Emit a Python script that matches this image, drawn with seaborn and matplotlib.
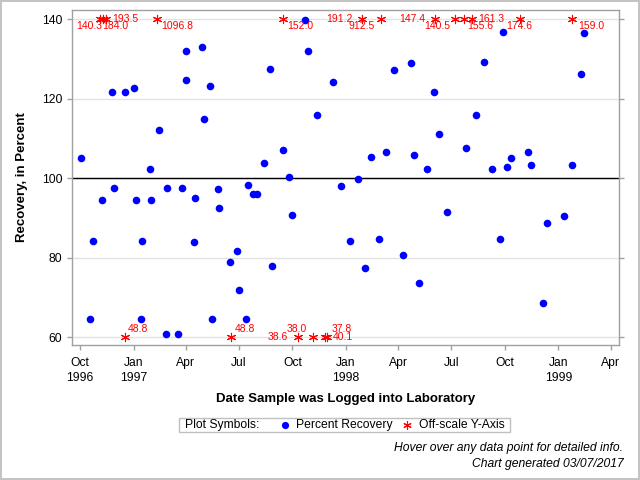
import numpy as np
import pandas as pd
import matplotlib
matplotlib.use("Agg")
import matplotlib.pyplot as plt
import matplotlib.dates as mdates
import matplotlib.ticker as mticker
from matplotlib.lines import Line2D
from matplotlib.offsetbox import AnchoredOffsetbox, HPacker, TextArea, DrawingArea
import seaborn as sns

# on-scale recoveries (percent) by log-in date
dates = ["1996-10-03", "1996-10-18", "1996-10-24", "1996-11-07", "1996-11-25",
         "1996-11-29", "1996-12-18", "1997-01-01", "1997-01-05", "1997-01-14",
         "1997-01-16", "1997-01-30", "1997-01-31", "1997-02-13", "1997-02-25",
         "1997-02-28", "1997-03-19", "1997-03-26", "1997-04-02", "1997-04-02",
         "1997-04-15", "1997-04-17", "1997-04-29", "1997-05-02", "1997-05-13",
         "1997-05-15", "1997-05-27", "1997-05-28", "1997-06-16", "1997-06-27",
         "1997-07-02", "1997-07-14", "1997-07-16", "1997-07-26", "1997-08-01",
         "1997-08-14", "1997-08-23", "1997-08-27", "1997-09-15", "1997-09-26",
         "1997-10-01", "1997-10-23", "1997-10-28", "1997-11-13", "1997-12-10",
         "1997-12-24", "1998-01-08", "1998-01-22", "1998-02-03", "1998-02-13",
         "1998-02-26", "1998-03-11", "1998-03-25", "1998-04-09", "1998-04-23",
         "1998-04-28", "1998-05-07", "1998-05-21", "1998-06-01", "1998-06-10",
         "1998-06-24", "1998-07-27", "1998-08-13", "1998-08-27", "1998-09-09",
         "1998-09-23", "1998-09-28", "1998-10-05", "1998-10-12", "1998-11-09",
         "1998-11-15", "1998-12-06", "1998-12-13", "1999-01-11", "1999-01-25",
         "1999-02-08", "1999-02-14"]
recovery = [105.0, 64.5, 84.1, 94.4, 121.6,
            97.4, 121.6, 122.6, 94.4, 64.5,
            84.1, 102.2, 94.4, 112.0, 60.7,
            97.4, 60.7, 97.4, 132.1, 124.6,
            83.8, 95.1, 133.0, 115.0, 123.3,
            64.5, 97.2, 92.6, 78.8, 81.6,
            71.8, 64.5, 98.2, 95.9, 96.1,
            103.7, 127.6, 78.0, 107.2, 100.2,
            90.6, 139.9, 132.1, 115.8, 124.3,
            97.9, 84.1, 99.9, 77.5, 105.2,
            84.6, 106.5, 127.1, 80.6, 128.9,
            105.7, 73.5, 102.4, 121.6, 111.0,
            91.4, 107.5, 115.8, 129.3, 102.2,
            84.6, 136.9, 102.9, 105.0, 106.5,
            103.2, 68.5, 88.6, 90.4, 103.4,
            126.1, 136.5]

# off-scale results, drawn at the axis limit with the real value as label
high_dates = ["1996-11-04", "1996-11-10", "1996-11-15", "1997-02-11", "1997-09-14",
              "1998-01-28", "1998-03-03", "1998-06-03", "1998-07-07", "1998-07-23",
              "1998-08-05", "1998-10-27", "1999-01-25"]
high_values = [140.3, 184.0, 193.5, 1096.8, 152.0,
               191.2, 912.5, 147.4, 140.5, 155.6,
               161.3, 174.6, 159.0]
low_dates = ["1996-12-17", "1997-06-18", "1997-10-10", "1997-11-05", "1997-11-26",
             "1997-11-30"]
low_values = [48.8, 48.8, 38.6, 38.0, 37.8, 40.1]

# label offsets (pixels) for the off-scale value labels
high_dx = [-11, 12, 19, 20, 18, -22, -20, -23, -17.5, 16.5, 20, -1, 19]
high_dy = [-10, -10, -2.5, -10, -10, -2.5, -10, -2.5, -10, -10, -2.5, -10, -10]
low_dx = [13, 13.5, -19.7, -15.7, 16.5, 15.7]
low_dy = [4.6, 4.6, -3.4, 4.6, 4.6, -3.4]

sns.set_style("white")
plt.rcParams['font.family'] = ['Liberation Sans', 'DejaVu Sans']
plt.rcParams['text.color'] = 'black'
plt.rcParams['axes.labelcolor'] = 'black'

df = pd.DataFrame({"date": pd.to_datetime(dates), "recovery": recovery})
off_vals = high_values + low_values
off = pd.DataFrame({"date": pd.to_datetime(high_dates + low_dates),
                    "value": off_vals,
                    "y": np.clip(off_vals, 60, 140)})

fig = plt.figure(figsize=(6.4, 4.8), dpi=100, edgecolor='#c4c4c4', linewidth=1.5)
ax = fig.add_axes([0.1125, 0.2819, 0.8542, 0.6967])

ax.yaxis.grid(True, color='#e3e3e3', lw=1)
ax.set_axisbelow(True)
ax.axhline(100, color='black', lw=1, zorder=1)

sns.scatterplot(data=df, x="date", y="recovery", color='#0000ff', s=30,
                linewidth=0, zorder=3, ax=ax)
sns.scatterplot(data=off, x="date", y="y", color='#ff0000', marker=(6, 2, 0),
                s=36, linewidth=0.8, zorder=3, ax=ax)

dx_all = high_dx + low_dx
dy_all = high_dy + low_dy
for i, row in off.iterrows():
    ax.annotate(f"{row['value']:.1f}", (mdates.date2num(row['date']), row['y']),
                xytext=(dx_all[i], dy_all[i]), textcoords='offset pixels',
                ha='center', va='baseline', fontsize=7.5, color='#ff0000')

x0 = mdates.date2num(pd.Timestamp("1996-10-01"))
ax.set_xlim(x0 - 13.7, x0 + 925.6)
ax.set_ylim(58.07, 142.26)
ax.set_yticks([60, 80, 100, 120, 140])

ax.xaxis.set_major_locator(mdates.MonthLocator(bymonth=[1, 4, 7, 10]))


def quarter_label(x, pos):
    d = mdates.num2date(x)
    text = d.strftime("%b")
    if d.month == 1 or x - 92 < ax.get_xlim()[0]:
        text += "\n" + str(d.year)
    return text


ax.xaxis.set_major_formatter(mticker.FuncFormatter(quarter_label))

for sp in ax.spines.values():
    sp.set_visible(True)
    sp.set_color('#a0a0a0')
    sp.set_linewidth(1)

ax.tick_params(axis='both', direction='out', length=3.6, width=1,
               color='#a0a0a0', labelcolor='black', labelsize=8.75)
ax.tick_params(axis='x', bottom=True, pad=5.5)
ax.tick_params(axis='y', left=True, right=True, labelright=False, pad=3.4)

ax.set_xlabel("Date Sample was Logged into Laboratory", fontsize=9.5,
              fontweight='bold', va='center')
ax.xaxis.set_label_coords(0.5, -0.162)
ax.set_ylabel("Recovery, in Percent", fontsize=9.5, fontweight='bold', va='center')
ax.yaxis.set_label_coords(-0.092, 0.5)


# legend strip below the axis title
def marker_box(**kw):
    da = DrawingArea(9, 9, 0, 0)
    da.add_artist(Line2D([4.5], [4.5], linestyle='none', **kw))
    return da


tp = dict(size=8.75, color='black')
grp1 = HPacker(children=[marker_box(marker='o', ms=5.2, color='#0000ff', mew=0),
                         TextArea("Percent Recovery", textprops=tp)],
               sep=3.8, align='center', pad=0)
grp2 = HPacker(children=[marker_box(marker=(6, 2, 0), ms=6, color='#ff0000', mew=0.8),
                         TextArea("Off-scale Y-Axis", textprops=tp)],
               sep=4.1, align='center', pad=0)
inner = HPacker(children=[TextArea("Plot Symbols:", textprops=tp),
                          HPacker(children=[grp1, grp2], sep=5.3,
                                  align='center', pad=0)],
                sep=14.2, align='center', pad=0)
row = HPacker(children=[DrawingArea(0.5, 1), inner, DrawingArea(0.5, 1)],
              sep=3, align='center', pad=0)
box = AnchoredOffsetbox(loc='center', child=row, pad=0.1, borderpad=0,
                        frameon=True, prop=dict(size=8.75),
                        bbox_to_anchor=(344.5 / 640, 1 - 425 / 480),
                        bbox_transform=fig.transFigure)
box.patch.set_edgecolor('#c0c0c0')
box.patch.set_linewidth(1)
fig.add_artist(box)

fig.text(0.974, 0.061, "Hover over any data point for detailed info.",
         ha='right', va='baseline', style='italic', fontsize=8.75)
fig.text(0.974, 0.0277, "Chart generated 03/07/2017",
         ha='right', va='baseline', style='italic', fontsize=8.75)

fig.canvas.draw()
for lbl in ax.get_xticklabels():
    lbl.set_linespacing(1.3)

fig.savefig("out.png", dpi=100, edgecolor=fig.get_edgecolor())
